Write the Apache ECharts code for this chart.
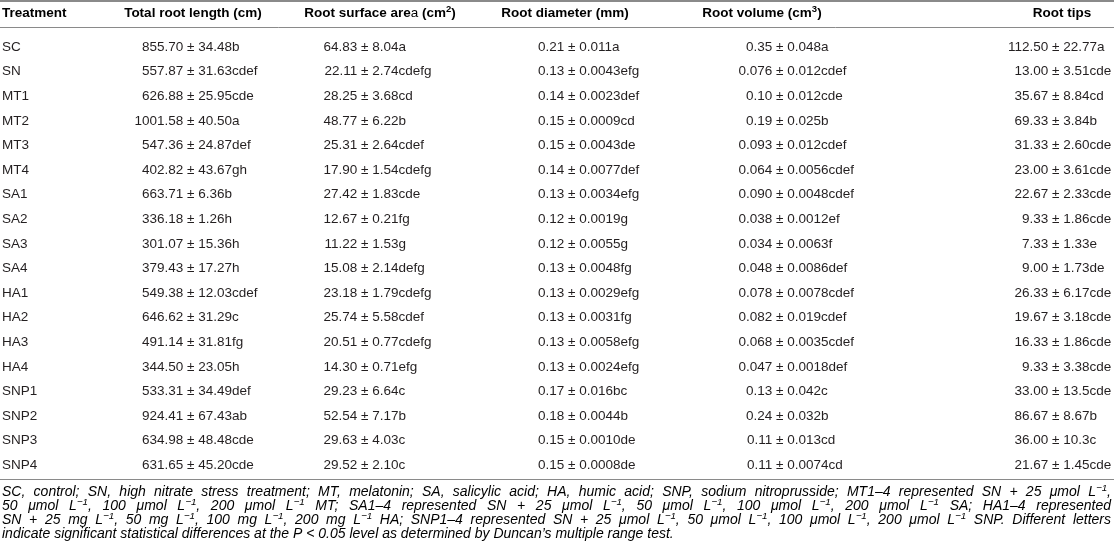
<!DOCTYPE html>
<html>
<head>
<meta charset="utf-8">
<script src="https://cdn.jsdelivr.net/npm/echarts@6/dist/echarts.min.js"></script>
<style>
html, body { margin: 0; padding: 0; background: #fff; }
#main { width: 1114px; height: 542px; }
</style>
</head>
<body>
<div id="main"></div>
<script>
const treatments = ['SC', 'SN', 'MT1', 'MT2', 'MT3', 'MT4', 'SA1', 'SA2', 'SA3', 'SA4',
    'HA1', 'HA2', 'HA3', 'HA4', 'SNP1', 'SNP2', 'SNP3', 'SNP4'];

const headers = ['Treatment', 'Total root length (cm)', 'Root surface are{a|a} (cm{sup|2})',
    'Root diameter (mm)', 'Root volume (cm{sup|3})', 'Root tips'];

const rootLength = ['855.70 ± 34.48b', '557.87 ± 31.63cdef', '626.88 ± 25.95cde', '1001.58 ± 40.50a',
    '547.36 ± 24.87def', '402.82 ± 43.67gh', '663.71 ± 6.36b', '336.18 ± 1.26h', '301.07 ± 15.36h',
    '379.43 ± 17.27h', '549.38 ± 12.03cdef', '646.62 ± 31.29c', '491.14 ± 31.81fg', '344.50 ± 23.05h',
    '533.31 ± 34.49def', '924.41 ± 67.43ab', '634.98 ± 48.48cde', '631.65 ± 45.20cde'];

const surfaceArea = ['64.83 ± 8.04a', '22.11 ± 2.74cdefg', '28.25 ± 3.68cd', '48.77 ± 6.22b',
    '25.31 ± 2.64cdef', '17.90 ± 1.54cdefg', '27.42 ± 1.83cde', '12.67 ± 0.21fg', '11.22 ± 1.53g',
    '15.08 ± 2.14defg', '23.18 ± 1.79cdefg', '25.74 ± 5.58cdef', '20.51 ± 0.77cdefg', '14.30 ± 0.71efg',
    '29.23 ± 6.64c', '52.54 ± 7.17b', '29.63 ± 4.03c', '29.52 ± 2.10c'];

const diameter = ['0.21 ± 0.011a', '0.13 ± 0.0043efg', '0.14 ± 0.0023def', '0.15 ± 0.0009cd',
    '0.15 ± 0.0043de', '0.14 ± 0.0077def', '0.13 ± 0.0034efg', '0.12 ± 0.0019g', '0.12 ± 0.0055g',
    '0.13 ± 0.0048fg', '0.13 ± 0.0029efg', '0.13 ± 0.0031fg', '0.13 ± 0.0058efg', '0.13 ± 0.0024efg',
    '0.17 ± 0.016bc', '0.18 ± 0.0044b', '0.15 ± 0.0010de', '0.15 ± 0.0008de'];

const volume = ['0.35 ± 0.048a', '0.076 ± 0.012cdef', '0.10 ± 0.012cde', '0.19 ± 0.025b',
    '0.093 ± 0.012cdef', '0.064 ± 0.0056cdef', '0.090 ± 0.0048cdef', '0.038 ± 0.0012ef', '0.034 ± 0.0063f',
    '0.048 ± 0.0086def', '0.078 ± 0.0078cdef', '0.082 ± 0.019cdef', '0.068 ± 0.0035cdef', '0.047 ± 0.0018def',
    '0.13 ± 0.042c', '0.24 ± 0.032b', '0.11 ± 0.013cd', '0.11 ± 0.0074cd'];

const tips = ['112.50 ± 22.77a', '13.00 ± 3.51cde', '35.67 ± 8.84cd', '69.33 ± 3.84b',
    '31.33 ± 2.60cde', '23.00 ± 3.61cde', '22.67 ± 2.33cde', '9.33 ± 1.86cde', '7.33 ± 1.33e',
    '9.00 ± 1.73de', '26.33 ± 6.17cde', '19.67 ± 3.18cde', '16.33 ± 1.86cde', '9.33 ± 3.38cde',
    '33.00 ± 13.5cde', '86.67 ± 8.67b', '36.00 ± 10.3c', '21.67 ± 1.45cde'];

// ^{..} marks a superscript; the last line is not justified
const footnote = [
    'SC, control; SN, high nitrate stress treatment; MT, melatonin; SA, salicylic acid; HA, humic acid; SNP, sodium nitroprusside; MT1–4 represented SN + 25 μmol L^{−1},',
    '50 μmol L^{−1}, 100 μmol L^{−1}, 200 μmol L^{−1} MT; SA1–4 represented SN + 25 μmol L^{−1}, 50 μmol L^{−1}, 100 μmol L^{−1}, 200 μmol L^{−1} SA; HA1–4 represented',
    'SN + 25 mg L^{−1}, 50 mg L^{−1}, 100 mg L^{−1}, 200 mg L^{−1} HA; SNP1–4 represented SN + 25 μmol L^{−1}, 50 μmol L^{−1}, 100 μmol L^{−1}, 200 μmol L^{−1} SNP. Different letters',
    'indicate significant statistical differences at the P < 0.05 level as determined by Duncan’s multiple range test.'
];

const columns = [rootLength, surfaceArea, diameter, volume, tips];

// layout
const FONT = '"Liberation Sans", Arial, Helvetica, sans-serif';
const TEXT = '#231f20';
const RULE = '#8a8a8a';
const BODY = 13.5;
const headerX = [2, 193, 380, 565, 762, 1062];
const plusX = [187, 361, 568, 776, 1052];   // x where the ± sign starts
const ROW = 24.6, SC_Y = 47;
const HEAD_RULE = 27, FOOT_RULE = 479;
const footY = [492, 506, 520, 534];

const chart = echarts.init(document.getElementById('main'));

function cellSeries(cells, ax) {
    return {
        type: 'custom',
        silent: true,
        data: cells.map((c, i) => [ax, treatments[i]]),
        renderItem: function (params, api) {
            const p = api.coord([api.value(0), api.value(1)]);
            const parts = cells[params.dataIndex].split(' ± ');
            const font = BODY + 'px ' + FONT;
            return {
                type: 'group',
                children: [
                    {type: 'text', x: p[0], y: p[1], style: {text: parts[0] + ' ', font: font, fill: TEXT,
                        align: 'right', verticalAlign: 'middle'}},
                    {type: 'text', x: p[0], y: p[1], style: {text: '± ' + parts[1], font: font, fill: TEXT,
                        align: 'left', verticalAlign: 'middle'}}
                ]
            };
        }
    };
}

const treatmentSeries = {
    type: 'custom',
    silent: true,
    data: treatments.map(t => [headerX[0], t]),
    renderItem: function (params, api) {
        const p = api.coord([api.value(0), api.value(1)]);
        return {type: 'text', x: p[0], y: p[1], style: {text: treatments[params.dataIndex],
            font: BODY + 'px ' + FONT, fill: TEXT, align: 'left', verticalAlign: 'middle'}};
    }
};

// footnote, justified word by word
const ctx = document.createElement('canvas').getContext('2d');
function segs(word) {
    const out = [];
    word.split(/(\^\{[^}]*\})/).forEach(s => {
        if (!s) return;
        if (s.startsWith('^{')) out.push({t: s.slice(2, -1), sup: true});
        else out.push({t: s, sup: false});
    });
    return out;
}
function wordWidth(word, size) {
    let w = 0;
    segs(word).forEach(s => {
        ctx.font = 'italic ' + (s.sup ? size * 0.7 : size) + 'px ' + FONT;
        w += ctx.measureText(s.t).width;
    });
    return w;
}
function spaceWidth(size) {
    ctx.font = 'italic ' + size + 'px ' + FONT;
    return ctx.measureText(' ').width;
}
// largest size (up to 14) at which every justified line still fits
let footSize = 14;
while (footSize > 10 && footnote.slice(0, -1).some(line => {
    const words = line.split(' ');
    const nat = words.reduce((a, w) => a + wordWidth(w, footSize), 0) + (words.length - 1) * spaceWidth(footSize) * 0.8;
    return nat > 1110;
})) footSize -= 0.25;

const footGraphics = [];
footnote.forEach((line, li) => {
    const words = line.split(' ');
    const widths = words.map(w => wordWidth(w, footSize));
    const total = widths.reduce((a, b) => a + b, 0);
    const justify = li < footnote.length - 1;
    const gap = justify ? (1111 - 2 - total) / (words.length - 1) : spaceWidth(footSize);
    let x = 2;
    words.forEach((w, i) => {
        footGraphics.push({
            type: 'text', x: x, y: footY[li], silent: true,
            style: {
                text: segs(w).map(s => (s.sup ? '{sup|' : '{n|') + s.t + '}').join(''),
                verticalAlign: 'middle', align: 'left',
                rich: {
                    n: {fontSize: footSize, fontStyle: 'italic', fontFamily: FONT, lineHeight: footSize + 4, color: TEXT},
                    sup: {fontSize: footSize * 0.7, fontStyle: 'italic', fontFamily: FONT, lineHeight: footSize * 0.7,
                        verticalAlign: 'top', color: TEXT}
                }
            }
        });
        x += widths[i] + gap;
    });
});

const headerGraphics = headers.map((h, i) => ({
    type: 'text', x: headerX[i], y: 13, silent: true,
    style: {
        text: '{b|' + h.replace(/\{(a|sup)\|([^}]*)\}/g, '}{$1|$2}{b|') + '}',
        align: i === 0 ? 'left' : 'center', verticalAlign: 'middle',
        rich: {
            b: {fontSize: 13.5, fontWeight: 'bold', fontFamily: FONT, lineHeight: 18, color: '#111'},
            a: {fontSize: 13.5, fontFamily: FONT, lineHeight: 18, color: '#111'},
            sup: {fontSize: 9.5, fontWeight: 'bold', fontFamily: FONT, lineHeight: 9.5, verticalAlign: 'top', color: '#111'}
        }
    }
}));

const series = [treatmentSeries].concat(columns.map((c, i) => cellSeries(c, plusX[i])));
const gridTop = SC_Y - ROW / 2;
const gridBottom = gridTop + ROW * treatments.length;

chart.setOption({
    animation: false,
    grid: {left: 0, right: 0, top: gridTop, height: ROW * treatments.length},
    xAxis: [
        {type: 'value', min: 0, max: 1114, position: 'top', offset: gridTop - HEAD_RULE,
            axisLine: {show: true, lineStyle: {color: RULE, width: 1}},
            axisTick: {show: false}, axisLabel: {show: false}, splitLine: {show: false}},
        {type: 'value', min: 0, max: 1114, position: 'bottom', offset: FOOT_RULE - gridBottom,
            axisLine: {show: true, lineStyle: {color: RULE, width: 1.2}},
            axisTick: {show: false}, axisLabel: {show: false}, splitLine: {show: false}}
    ],
    yAxis: {type: 'category', data: treatments, inverse: true, show: false},
    series: series,
    graphic: [
        {type: 'line', silent: true, shape: {x1: 0, y1: 1, x2: 1114, y2: 1},
            style: {stroke: RULE, lineWidth: 2}}
    ].concat(headerGraphics, footGraphics)
});
</script>
</body>
</html>
